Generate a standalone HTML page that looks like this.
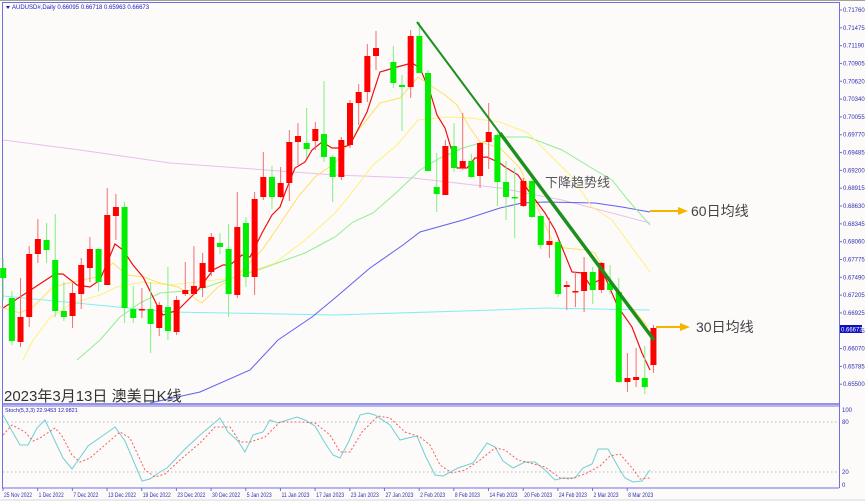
<!DOCTYPE html>
<html><head><meta charset="utf-8"><style>
html,body{margin:0;padding:0;background:#fff}
svg{display:block}
</style></head><body>
<svg id="s" width="865" height="501" xmlns="http://www.w3.org/2000/svg" font-family="Liberation Sans, sans-serif">
<rect width="865" height="501" fill="#fdfafa"/>
<rect x="0" y="0" width="865" height="1" fill="#a0a0a0"/>
<rect x="0" y="499" width="865" height="2" fill="#eaeaea"/>
<g stroke="#7070e0" fill="none">
<line x1="2.5" y1="2" x2="2.5" y2="488"/>
<line x1="2" y1="2.5" x2="839" y2="2.5"/>
<line x1="839.5" y1="2" x2="839.5" y2="488"/>
<line x1="2" y1="404" x2="839" y2="404" stroke-width="1.5"/>
<line x1="2" y1="406" x2="839" y2="406" stroke-width="1"/>
<line x1="2" y1="488" x2="839" y2="488"/>
</g>
<g stroke="#bbbbbb" stroke-dasharray="1.5,2.5"><line x1="3" y1="422" x2="839" y2="422"/><line x1="3" y1="472" x2="839" y2="472"/></g>
<g id="ax" font-size="6" fill="#3030b0"></g>
<g id="ma"></g>
<g id="cd"></g>
<line x1="417" y1="22" x2="654" y2="340" stroke="#1d8f1d" stroke-width="2"/>
<line x1="500" y1="133" x2="654" y2="340" stroke="#1d8f1d" stroke-width="3.5"/>
<text x="545" y="187" font-size="13" fill="#555" font-family="Liberation Sans, Noto Sans CJK SC, sans-serif">下降趋势线</text>
<line x1="650" y1="211" x2="680" y2="211" stroke="#f5b400" stroke-width="2"/><polygon points="678,207 688,211 678,215" fill="#f5b400"/>
<text x="691" y="216" font-size="14" fill="#444" font-family="Liberation Sans, Noto Sans CJK SC, sans-serif">60日均线</text>
<line x1="656" y1="327" x2="682" y2="327" stroke="#f5b400" stroke-width="2"/><polygon points="680,323 690,327 680,331" fill="#f5b400"/>
<text x="696" y="332" font-size="14" fill="#444" font-family="Liberation Sans, Noto Sans CJK SC, sans-serif">30日均线</text>
<text x="4" y="401" font-size="15" fill="#333" font-family="Liberation Sans, Noto Sans CJK SC, sans-serif">2023年3月13日 澳美日K线</text>
<polygon points="6,6 10,6 8,9" fill="#2020a0"/>
<text x="12" y="9" font-size="6" fill="#2020c0">AUDUSD#,Daily  0.66095 0.66718 0.65963 0.66673</text>
<text x="5" y="412" font-size="5.5" fill="#2020c0">Stoch(5,3,3) 22.9453 12.9821</text>
<rect x="840" y="325" width="22" height="8" fill="#1010c0"/>
<text x="841" y="331.5" font-size="6" fill="#fff">0.66673</text>
<g font-size="6" fill="#3030b0"><text x="842" y="412">100</text><text x="842" y="424">80</text><text x="842" y="474">20</text><text x="842" y="487">0</text></g>
<g id="xl" font-size="6" fill="#3030b0"></g>
</svg>
<script>
var NS="http://www.w3.org/2000/svg",s=document.getElementById('s');
function el(p,t,a,txt){var e=document.createElementNS(NS,t);for(var k in a)e.setAttribute(k,a[k]);if(txt)e.textContent=txt;document.getElementById(p).appendChild(e);return e;}
var labs=["0.71760","0.71475","0.71190","0.70905","0.70620","0.70340","0.70055","0.69770","0.69485","0.69200","0.68915","0.68630","0.68345","0.68060","0.67775","0.67490","0.67205","0.66925",null,"0.66355","0.66070","0.65785","0.65500"];
for(var i=0;i<labs.length;i++){var y;if(labs[i]===null)continue;var idx=i>18?i-1:i;y=10+idx*17.82;el('ax','line',{x1:839,y1:y,x2:842,y2:y,stroke:'#7070e0'});el('ax','text',{x:843,y:y+2},labs[i]);}
var dl=["25 Nov 2022","1 Dec 2022","7 Dec 2022","13 Dec 2022","19 Dec 2022","23 Dec 2022","30 Dec 2022","5 Jan 2023","11 Jan 2023","17 Jan 2023","23 Jan 2023","27 Jan 2023","2 Feb 2023","8 Feb 2023","14 Feb 2023","20 Feb 2023","24 Feb 2023","2 Mar 2023","8 Mar 2023"];
dl.forEach(function(t,i){var x=3+i*34.68;el('xl','line',{x1:x,y1:488,x2:x,y2:491,stroke:'#7070e0'});el('xl','text',{x:x+1,y:497,textLength:t.length>10?28:25,lengthAdjust:'spacingAndGlyphs'},t);});
function pl(c,pts,w,da){el('ma','polyline',{points:pts,fill:'none',stroke:c,'stroke-width':w||1,'stroke-dasharray':da||'none'});}
pl('#e8c0ec','3,140 80,150 170,163 335,175 413,178 500,188 562,200 650,223');
pl('#80f0f0','3,296 170,312 335,315 495,310 545,308 650,310');
pl('#6060ee','150,403 200,392 250,370 278,340 312,317 335,298 370,268 403,245 420,232 463,220 500,208 522,203 545,202 595,203 622,207 650,212');
pl('#90ee90','77,360 100,340 120,317 140,303 160,293 198,290 232,278 258,270 305,253 335,237 353,222 373,213 397,192 420,170 440,158 463,148 500,137 528,137 562,150 595,170 612,180 628,200 650,225');
pl('#fff080','23,360 33,340 50,318 73,303 100,295 117,287 143,282 170,285 198,282 232,278 255,270 275,263 305,240 322,225 335,213 350,195 373,165 397,145 418,120 447,117 470,118 500,122 528,133 545,150 572,177 592,207 612,220 650,272');
pl('#ffe060','0,307 20,313 33,307 53,287 73,282 97,277 113,263 127,275 143,277 160,283 178,287 202,303 218,287 238,275 262,250 278,227 298,197 315,177 335,163 357,132 380,103 400,98 418,77 430,85 445,95 457,105 470,128 480,142 500,148 520,168 555,247 585,250 595,253 608,277 628,303 648,327');
pl('#ee1010','3,308 20,297 55,274 63,274 77,285 90,287 100,280 115,244 123,250 133,265 143,277 157,305 163,315 178,310 198,290 213,270 223,265 230,265 242,255 250,257 262,233 272,215 280,207 285,193 295,168 305,162 312,150 322,142 332,148 340,148 350,145 367,112 380,72 397,67 412,63 420,68 430,92 437,115 445,128 457,168 467,168 475,158 487,157 500,163 505,167 518,175 528,190 545,213 555,230 572,272 582,273 590,285 605,277 618,307 632,327 642,353 650,370',1.2);
pl('#70d0d0','3,415 20,445 28,445 37,428 45,420 63,458 72,469 88,446 108,432 115,427 125,441 142,481 150,479 160,472 167,468 185,449 200,435 212,425 220,418 228,432 238,441 245,452 253,435 263,432 270,420 278,423 297,417 305,420 315,426 325,443 333,455 340,458 348,443 360,415 368,413 375,415 390,425 400,440 412,437 417,436 425,455 435,475 443,476 458,468 473,463 487,443 495,447 503,461 513,468 525,462 535,462 545,470 555,480 563,478 575,478 583,468 592,464 598,449 608,449 620,470 625,478 633,482 642,481 650,470');
pl('#f06060','3,435 12,425 25,432 33,441 40,438 55,428 62,436 72,455 80,462 90,458 105,445 120,432 130,438 145,470 155,477 165,474 180,460 200,443 215,427 230,427 240,442 250,442 265,437 280,422 300,422 315,423 330,435 340,452 350,452 362,432 378,416 390,418 405,432 420,437 430,445 440,465 452,473 465,470 480,460 495,448 505,450 518,460 530,463 545,467 560,478 570,479 585,474 600,466 610,456 620,454 633,469 640,479 650,478',1,'2,2');
var C=[[0,268,278,258,300,'g'],[1,298,341,291,345,'g'],[2,317,342,278,347,'r'],[3,254,317,246,327,'r'],[4,239,254,219,263,'r'],[5,240,250,223,263,'g'],[6,260,311,214,317,'g'],[7,311,317,282,321,'g'],[8,293,316,283,328,'r'],[9,265,294,258,309,'r'],[10,249,268,237,282,'r'],[11,249,282,248,291,'g'],[12,215,285,188,285,'r'],[13,207,216,194,240,'r'],[14,207,308,202,323,'g'],[15,309,318,286,323,'g'],[16,309,310,288,318,'r'],[17,309,324,282,353,'g'],[18,305,328,302,336,'r'],[19,307,331,267,340,'g'],[20,300,332,296,335,'r'],[21,290,294,262,296,'r'],[22,286,294,246,295,'r'],[23,263,288,253,297,'r'],[24,237,272,233,276,'r'],[25,243,247,233,254,'g'],[26,249,294,224,317,'g'],[27,227,295,192,298,'r'],[28,223,277,217,287,'g'],[29,199,277,192,295,'r'],[30,177,197,152,200,'r'],[31,177,197,166,209,'g'],[32,183,197,167,198,'r'],[33,142,183,130,201,'r'],[34,136,142,123,165,'r'],[35,143,149,108,158,'g'],[36,129,141,122,150,'r'],[37,134,157,81,162,'g'],[38,157,177,155,202,'g'],[39,140,177,137,180,'r'],[40,103,145,100,148,'r'],[41,92,103,84,125,'r'],[42,56,92,44,102,'r'],[43,48,56,31,70,'r'],[45,62,83,46,88,'g'],[46,85,87,75,131,'g'],[47,36,87,30,98,'r'],[48,36,73,22,73,'g'],[49,73,171,70,171,'g'],[50,187,194,153,212,'g'],[51,146,195,140,195,'r'],[52,146,168,123,172,'g'],[53,161,168,113,170,'r'],[54,161,177,154,178,'g'],[55,143,176,142,188,'r'],[56,132,142,103,169,'r'],[57,135,182,133,206,'g'],[58,182,197,161,220,'g'],[59,197,198,168,238,'g'],[60,181,206,178,207,'r'],[61,181,217,180,218,'g'],[62,216,245,215,249,'g'],[63,241,245,218,258,'r'],[64,242,294,240,297,'g'],[65,285,287,281,310,'r'],[66,291,292,272,307,'r'],[67,272,291,257,312,'r'],[68,272,290,267,304,'g'],[69,263,290,262,293,'r'],[70,283,290,265,294,'g'],[71,292,382,278,383,'g'],[72,378,382,353,392,'r'],[73,377,380,348,387,'r'],[74,378,387,346,394,'g'],[75,328,365,325,373,'r']];
C.forEach(function(c){var x=3.2+8.67*c[0];var red=c[5]=='r';
el('cd','line',{x1:x,y1:c[3],x2:x,y2:c[4],stroke:red?'#f07070':'#80f080','stroke-width':1});
var h=Math.max(c[2]-c[1],1.5);el('cd','rect',{x:x-3,y:c[1],width:6,height:h,fill:red?'#ff0000':'#00ee00'});});
</script>
</body></html>
